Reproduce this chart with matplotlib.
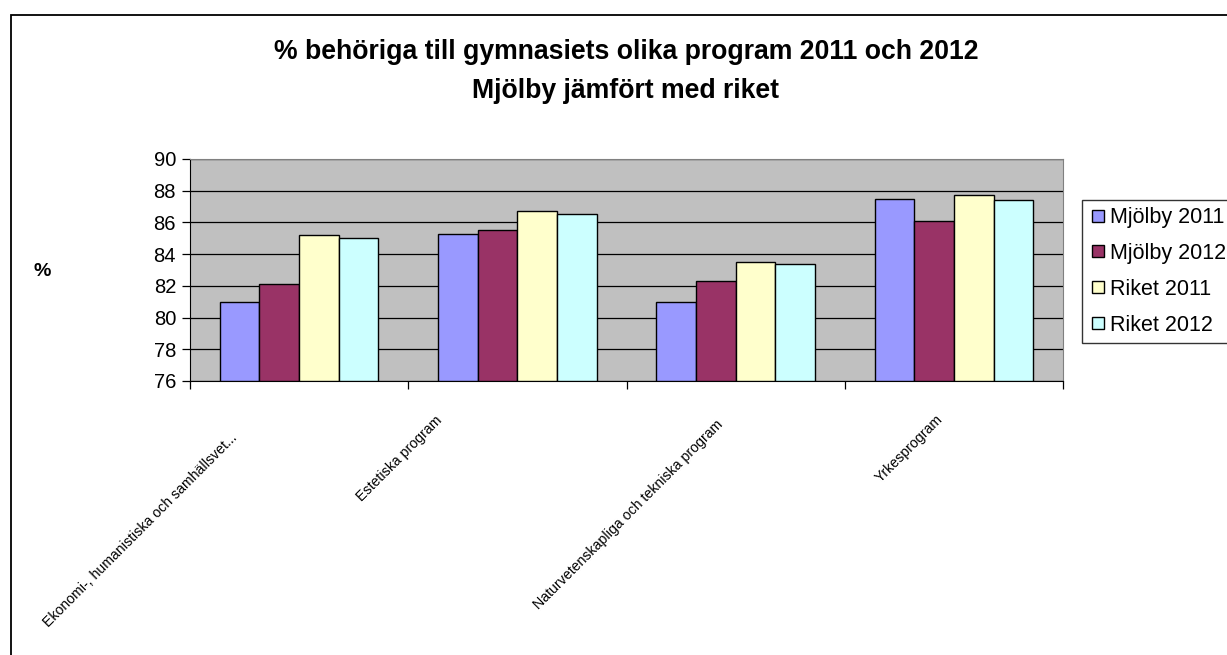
import matplotlib
matplotlib.use("Agg")
import matplotlib.pyplot as plt
import matplotlib.patches as patches
from matplotlib.lines import Line2D
import numpy as np

plt.rcParams['font.family'] = ['Liberation Sans', 'DejaVu Sans']

# data
categories = ["Ekonomi-, humanistiska och samhällsvet...",
              "Estetiska program",
              "Naturvetenskapliga och tekniska program",
              "Yrkesprogram"]
series_names = ["Mjölby 2011", "Mjölby 2012", "Riket 2011", "Riket 2012"]
mjolby_2011 = [81.0, 85.3, 81.0, 87.5]
mjolby_2012 = [82.1, 85.5, 82.3, 86.1]
riket_2011 = [85.2, 86.7, 83.5, 87.7]
riket_2012 = [85.0, 86.5, 83.4, 87.4]
yticks = [76, 78, 80, 82, 84, 86, 88, 90]

series = [mjolby_2011, mjolby_2012, riket_2011, riket_2012]
colors = ["#9999FF", "#993366", "#FFFFCC", "#CCFFFF"]

# label offsets (pixels) of the rotated category labels, as Excel placed them
label_dx = [-64, -77, -15, -13]
label_dy = [-55, -37, -41, -36]

fig = plt.figure(figsize=(12.27, 6.55), dpi=100)
ax = fig.add_axes([190/1227, 1-381/655, (1063-190)/1227, (381-159)/655])

# outer chart border
border = patches.Rectangle((10.5/1227, -0.1), 1.2, (655-14.5)/655 + 0.1,
                           transform=fig.transFigure, fill=False,
                           edgecolor='black', lw=1.3, clip_on=False)
fig.patches.append(border)

w = 1/5.5
x = np.arange(len(categories))
for j, vals in enumerate(series):
    ax.bar(x + (j - 1.5)*w, np.array(vals) - 76, width=w, bottom=76,
           color=colors[j], edgecolor='black', linewidth=1.0, zorder=3)

ax.set_facecolor('#C0C0C0')
ax.set_xlim(-0.5, len(categories) - 0.5)
ax.set_ylim(76, 90)
ax.set_yticks(yticks)
ax.set_yticklabels([str(t) for t in yticks], fontsize=14.5)
ax.yaxis.grid(True, color='black', lw=0.9)
ax.set_axisbelow(True)
ax.set_xticks(np.arange(len(categories) + 1) - 0.5)
ax.set_xticklabels([])
ax.tick_params(axis='both', direction='out', length=6, color='black', width=0.9)
ax.tick_params(axis='y', pad=4)
for s in ['top', 'right']:
    ax.spines[s].set_color('#808080')
for s in ['left', 'bottom']:
    ax.spines[s].set_color('black')

for i, lab in enumerate(categories):
    ax.annotate(lab, xy=(i, 0), xycoords=('data', 'axes fraction'),
                xytext=(label_dx[i]*0.72, label_dy[i]*0.72), textcoords='offset points',
                rotation=45, rotation_mode='anchor', ha='right', va='center',
                fontsize=10.2, annotation_clip=False)

fig.text(626/1227, 1-52/655, "% behöriga till gymnasiets olika program 2011 och 2012",
         ha='center', va='center', fontsize=19.2, fontweight='bold')
fig.text(626/1227, 1-91/655, "Mjölby jämfört med riket",
         ha='center', va='center', fontsize=19.2, fontweight='bold')
fig.text(42/1227, 1-272/655, "%", ha='center', va='center', fontsize=14, fontweight='bold')

handles = [Line2D([], [], marker='s', linestyle='none', markersize=8,
                  markerfacecolor=c, markeredgecolor='black', markeredgewidth=1.0)
           for c in colors]
leg = fig.legend(handles, series_names, loc='upper left',
                 bbox_to_anchor=(1082/1227, 1-200/655), fontsize=15.5,
                 frameon=True, fancybox=False, edgecolor='black',
                 handlelength=0.8, handletextpad=0.15, labelspacing=0.69,
                 borderpad=0.33, borderaxespad=0)
leg.get_frame().set_linewidth(1.0)

fig.savefig("out.png", dpi=100)
